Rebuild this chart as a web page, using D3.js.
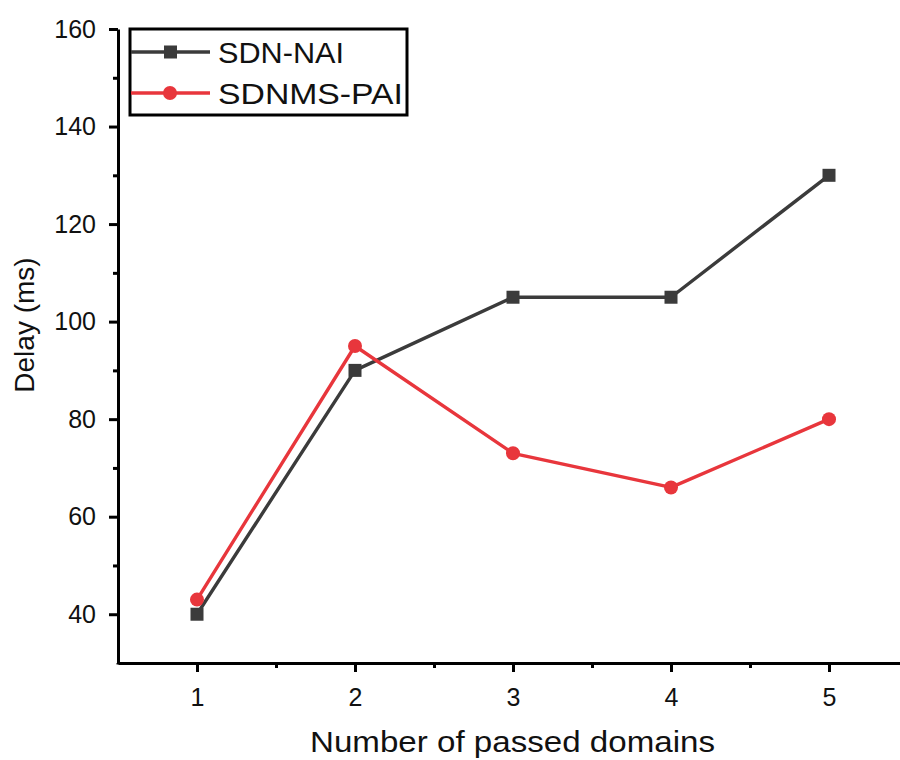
<!DOCTYPE html>
<html><head><meta charset="utf-8">
<script src="https://cdn.jsdelivr.net/npm/d3@7"></script>
<style>body{margin:0;background:#fff}svg{display:block}text{font-family:"Liberation Sans",Arial,sans-serif}</style>
</head><body><svg id="c" width="900" height="760"></svg>
<script>
const domains = [1, 2, 3, 4, 5];
const sdnNai = [40, 90, 105, 105, 130];
const sdnmsPai = [43, 95, 73, 66, 80];
const yTicks = [40, 60, 80, 100, 120, 140, 160];
const seriesNames = ["SDN-NAI", "SDNMS-PAI"];
const colors = ["#3b3b3b", "#e8363c"];

const svg = d3.select("#c");
const x = d3.scaleLinear().domain([0.5, 5.5]).range([118, 908]);
const y = d3.scaleLinear().domain([30, 160]).range([663, 29]);

const xMinor = [1.5, 2.5, 3.5, 4.5];
const yMinor = [50, 70, 90, 110, 130, 150];

const ax = svg.append("g").attr("transform", "translate(0,663)");
ax.call(d3.axisBottom(x).tickValues(domains).tickFormat(d3.format("d")).tickSize(9).tickPadding(16).tickSizeOuter(0));
const axm = svg.append("g").attr("transform", "translate(0,663)");
axm.call(d3.axisBottom(x).tickValues(xMinor).tickFormat("").tickSize(5).tickSizeOuter(0));
axm.select(".domain").remove();

const ay = svg.append("g").attr("transform", "translate(118,0)");
ay.call(d3.axisLeft(y).tickValues(yTicks).tickFormat(d3.format("d")).tickSize(9).tickPadding(13).tickSizeOuter(0));
const aym = svg.append("g").attr("transform", "translate(118,0)");
aym.call(d3.axisLeft(y).tickValues(yMinor).tickFormat("").tickSize(5).tickSizeOuter(0));
aym.select(".domain").remove();

svg.selectAll(".domain").attr("stroke", "#000").attr("stroke-width", 3);
svg.selectAll(".tick line").attr("stroke", "#000").attr("stroke-width", 3);
svg.selectAll(".tick text").style("font-size", "25px").attr("fill", "#111").style("font-family", "Liberation Sans, Arial, sans-serif");

svg.append("line").attr("x1", 118).attr("x2", 118).attr("y1", y(30)).attr("y2", y(30)+1.5).attr("stroke", "#000").attr("stroke-width", 3);

const data = [sdnNai, sdnmsPai];
const line = d3.line().x((d, i) => x(domains[i])).y(d => y(d));
data.forEach((vals, k) => {
  svg.append("path").datum(vals).attr("d", line).attr("fill", "none")
    .attr("stroke", colors[k]).attr("stroke-width", 3.4).attr("stroke-linejoin", "round");
});
svg.selectAll(".sq").data(sdnNai).enter().append("rect")
  .attr("x", (d, i) => x(domains[i]) - 6.5).attr("y", d => y(d) - 6.5)
  .attr("width", 13).attr("height", 13).attr("fill", colors[0]);
svg.selectAll(".ci").data(sdnmsPai).enter().append("circle")
  .attr("cx", (d, i) => x(domains[i])).attr("cy", d => y(d)).attr("r", 7).attr("fill", colors[1]);

// legend
const lg = svg.append("g");
lg.append("rect").attr("x", 130).attr("y", 29).attr("width", 277).attr("height", 86)
  .attr("fill", "#fff").attr("stroke", "#000").attr("stroke-width", 3);
const rows = [52, 93];
const textLens = [126, 185];
rows.forEach((ry, k) => {
  lg.append("line").attr("x1", 131).attr("x2", 210).attr("y1", ry).attr("y2", ry)
    .attr("stroke", colors[k]).attr("stroke-width", 3.4);
  if (k === 0) lg.append("rect").attr("x", 164).attr("y", ry - 6.5).attr("width", 13).attr("height", 13).attr("fill", colors[0]);
  else lg.append("circle").attr("cx", 170).attr("cy", ry).attr("r", 7).attr("fill", colors[1]);
  lg.append("text").attr("x", 218).attr("y", ry + 11).attr("font-size", 30).attr("fill", "#111")
    .attr("textLength", textLens[k]).attr("lengthAdjust", "spacingAndGlyphs").text(seriesNames[k]);
});

// axis titles
svg.append("text").attr("x", 310).attr("y", 752)
  .attr("font-size", 30).attr("fill", "#111")
  .attr("textLength", 405).attr("lengthAdjust", "spacingAndGlyphs").text("Number of passed domains");
svg.append("text").attr("transform", "translate(34,325) rotate(-90)").attr("text-anchor", "middle")
  .attr("font-size", 28).attr("fill", "#111").text("Delay (ms)");
</script></body></html>
